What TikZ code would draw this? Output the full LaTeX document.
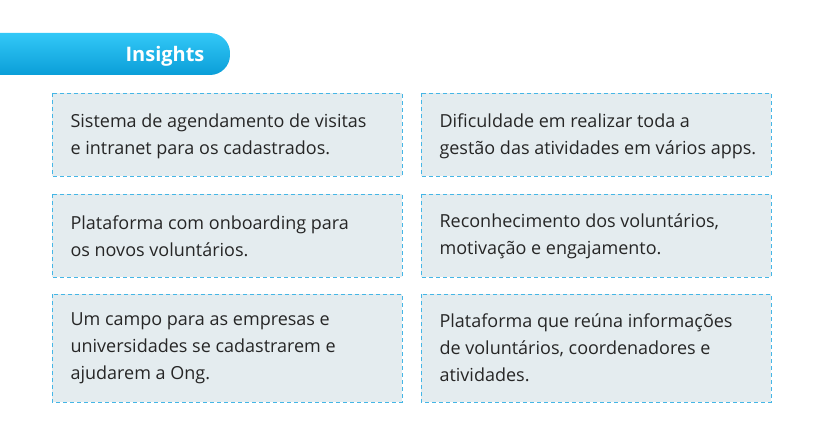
\documentclass[tikz,border=0pt]{standalone}
\usepackage{fontspec}
\setmainfont{Open Sans}
\definecolor{cardfill}{HTML}{E4ECEF}
\definecolor{cardline}{HTML}{45B6E6}
\definecolor{pilltop}{HTML}{33C8F7}
\definecolor{pillbot}{HTML}{0A9ED8}
\begin{document}
\begin{tikzpicture}[x=1pt,y=-1pt,
  card/.style={draw=cardline, dash pattern=on 4pt off 3pt, fill=cardfill, line width=0.8pt},
  txt/.style={anchor=west, align=left, font=\fontsize{18}{27}\selectfont, text=black!85}]
\useasboundingbox (0,0) rectangle (828,425);
\shade[top color=pilltop, bottom color=pillbot, rounded corners=20pt] (-30,33) rectangle (230,75);
\node[font=\bfseries\fontsize{20}{22}\selectfont, text=white] (h) at (165,56) {Insights};
\foreach \x in {52,421}{
  \foreach \y/\h in {93/83,194/83,294/108}{
    \draw[card] (\x,\y) rectangle ++(350,\h);
  }}
\node[txt] (a1) at (67,136) {Sistema de agendamento de visitas\\e intranet para os cadastrados.};
\node[txt] (b1) at (436,136) {Dificuldade em realizar toda a\\gestão das atividades em vários apps.};
\node[txt] (a2) at (67,236) {Plataforma com onboarding para\\os novos voluntários.};
\node[txt] (b2) at (436,236) {Reconhecimento dos voluntários,\\motivação e engajamento.};
\node[txt] (a3) at (67,348) {Um campo para as empresas e\\universidades se cadastrarem e\\ajudarem a Ong.};
\node[txt] (b3) at (436,348) {Plataforma que reúna informações\\de voluntários, coordenadores e\\atividades.};
\end{tikzpicture}
\end{document}
